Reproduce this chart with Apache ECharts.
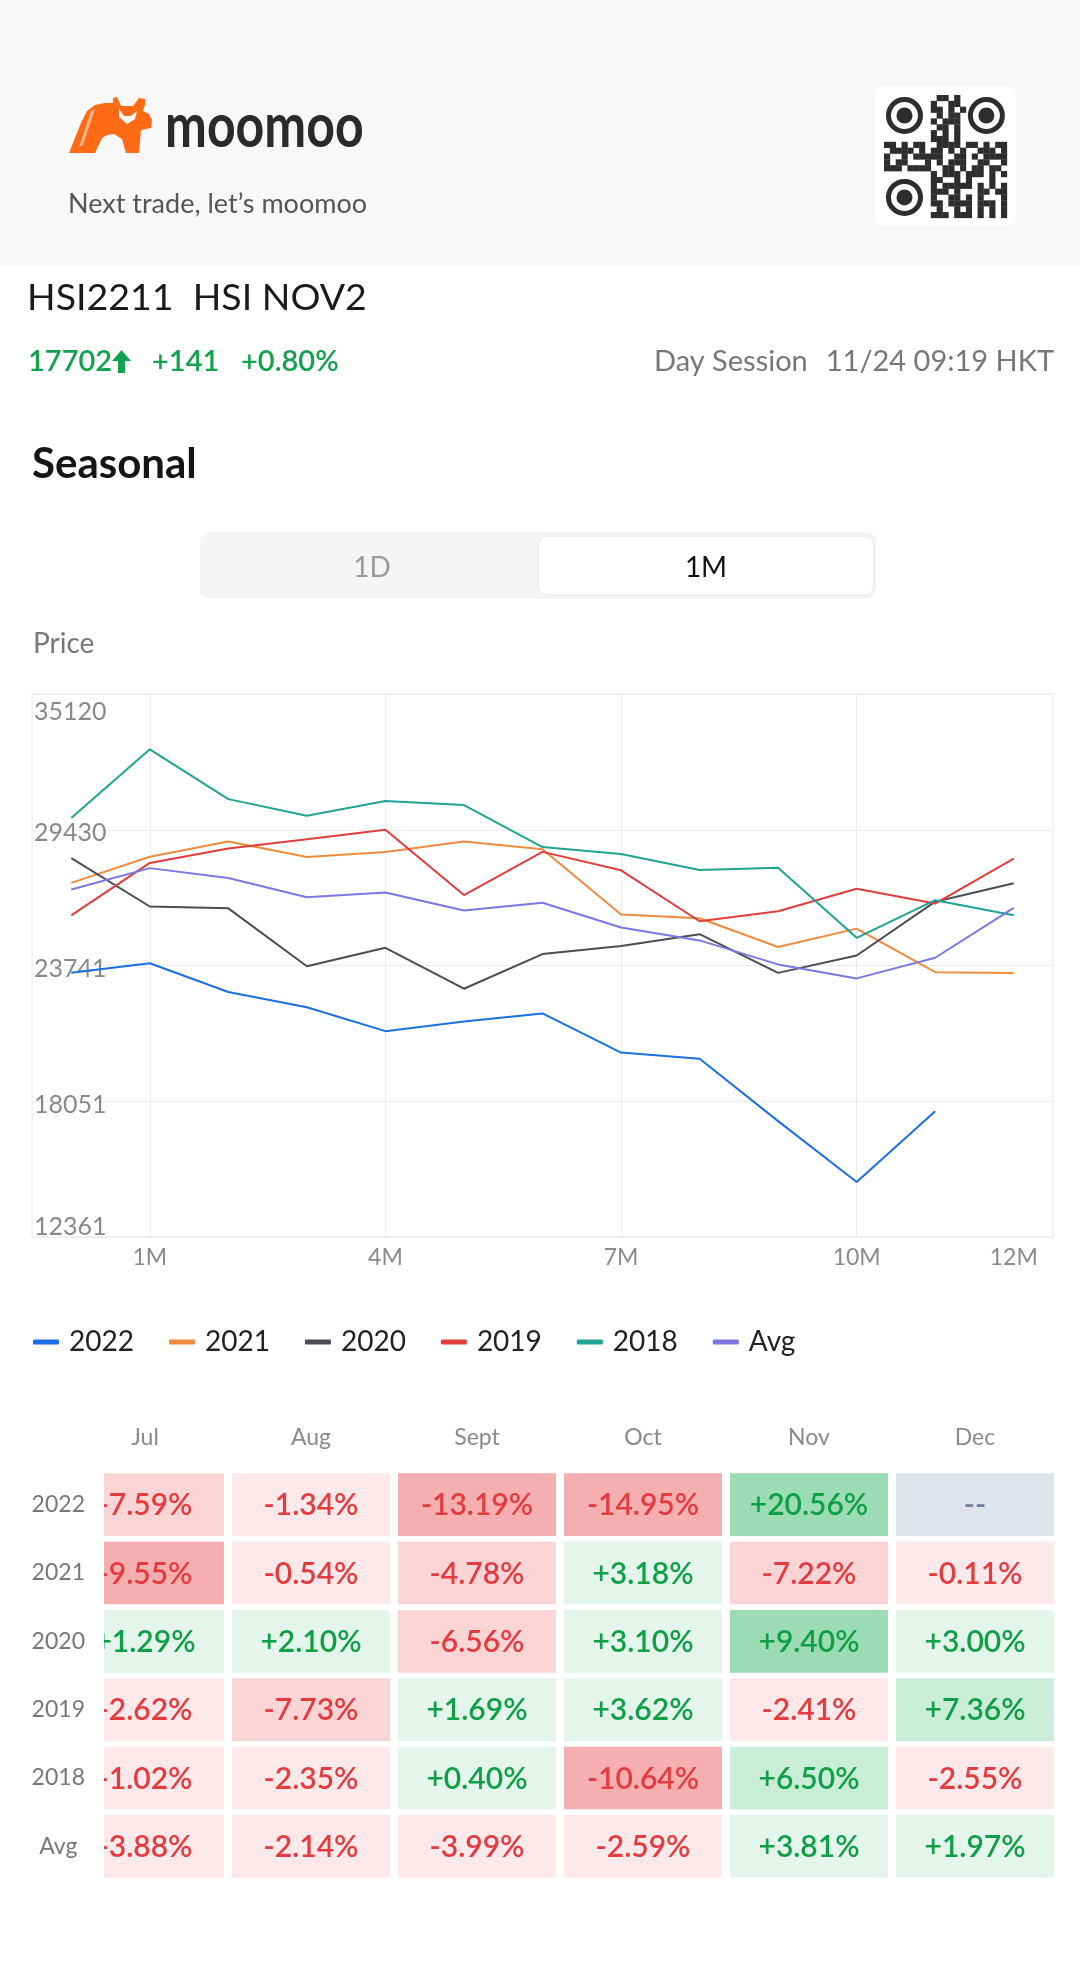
<!DOCTYPE html>
<html>
<head>
<meta charset="utf-8">
<script src="https://cdn.jsdelivr.net/npm/echarts@6/dist/echarts.min.js"></script>
<style>
html,body{margin:0;padding:0;background:#fff;}
#chart{width:1080px;height:1984px;}
</style>
</head>
<body>
<div id="chart"></div>
<script>
// ---------- DATA ----------
const xLabels = ['0M','1M','2M','3M','4M','5M','6M','7M','8M','9M','10M','11M','12M'];
const xLabelShown = [1, 4, 7, 10, 12];
const xGridShown = [1, 4, 7, 10];
const yMin = 12361;
const yMax = 35120;
const yTickValues = [12361, 18050.75, 23740.5, 29430.25, 35120];
const yTickLabels = ['12361', '18051', '23741', '29430', '35120'];

const seriesNames = ['2022', '2021', '2020', '2019', '2018', 'Avg'];
const s2022 = [23432, 23833, 22628, 21994, 20989, 21391, 21731, 20092, 19829, 17217, 14666, 17634, null];
const s2021 = [27204, 28301, 28935, 28286, 28502, 28935, 28611, 25874, 25720, 24514, 25287, 23462, 23431];
const s2020 = [28240, 26214, 26137, 23710, 24483, 22767, 24220, 24560, 25055, 23432, 24158, 26415, 27188];
const s2019 = [25843, 28039, 28642, 29028, 29430, 26694, 28502, 27729, 25596, 26013, 26956, 26338, 28224];
const s2018 = [29925, 32800, 30713, 30017, 30636, 30466, 28703, 28410, 27745, 27838, 24900, 26477, 25843];
const sAvg  = [26926, 27822, 27405, 26601, 26802, 26044, 26369, 25333, 24792, 23787, 23200, 24065, 26152];

const tableMonths = ['Jul', 'Aug', 'Sept', 'Oct', 'Nov', 'Dec'];
const tableYears = ['2022', '2021', '2020', '2019', '2018', 'Avg'];
const ret2022 = [-7.59, -1.34, -13.19, -14.95, 20.56, null];
const ret2021 = [-9.55, -0.54, -4.78, 3.18, -7.22, -0.11];
const ret2020 = [1.29, 2.10, -6.56, 3.10, 9.40, 3.00];
const ret2019 = [-2.62, -7.73, 1.69, 3.62, -2.41, 7.36];
const ret2018 = [-1.02, -2.35, 0.40, -10.64, 6.50, -2.55];
const retAvg  = [-3.88, -2.14, -3.99, -2.59, 3.81, 1.97];

// ---------- STYLE ----------
const FONT = 'Lato, "Noto Sans", sans-serif';
const lineColors = ['#1b6fe3', '#f08a3c', '#4a4d56', '#e03d3d', '#1fa393', '#7a77e2'];
const seriesData = [s2022, s2021, s2020, s2019, s2018, sAvg];
const tableRows = [ret2022, ret2021, ret2020, ret2019, ret2018, retAvg];

function cellBg(v) {
  if (v === null || v === undefined) return '#dfe3ea';
  const a = Math.abs(v);
  if (v < 0) return a >= 8 ? '#f6afb0' : (a >= 4 ? '#fbd5d5' : '#fde9ea');
  return a >= 8 ? '#9cdcb5' : (a >= 4 ? '#c9edd7' : '#e4f6ec');
}
function cellFg(v) {
  if (v === null || v === undefined) return '#6f80a3';
  return v < 0 ? '#e33b3f' : '#0f9f46';
}
function cellText(v) {
  if (v === null || v === undefined) return '--';
  return (v > 0 ? '+' : '') + v.toFixed(2) + '%';
}

const tableData = [];
tableRows.forEach(function (row, r) {
  row.forEach(function (v, c) { tableData.push([c, r]); });
});

// ---------- DECORATION (page chrome) ----------
const qrPattern = [
  '.........11.1........',
  '........1..11........',
  '........11.1.1.......',
  '.........1.11........',
  '........1.111........',
  '.........11.1........',
  '........1.1.1........',
  '........111.1........',
  '11.1.11..1111.11.1.11',
  '.1111.1.11.1.1..111.1',
  '1..1.11111..11.1.1111',
  '1.11...1.1.111..11..1',
  '111.1111..11.1.11.11.',
  '........1.111.111.1.1',
  '........11..1.1...1..',
  '........1.11111.1.1.1',
  '........111.1...11.11',
  '........1..11.1.1...1',
  '........11.1111.111.1',
  '.........1..1.1.1.1.1',
  '........111.111.1.1.1'
];
const graphics = [];
graphics.push({type:'rect', silent:true, z:-10, shape:{x:0,y:0,width:1080,height:266}, style:{fill:'#f8f8f8'}});
// logo
graphics.push({type:'polygon', silent:true, x:69, y:97,
  shape:{points:[[0,56],[12,26],[18,14],[26,8],[36,6],[44,6],[44,1],[48,0],[52,9],[64,9],[70,1],[76,2],[76,8],[74,14],[80,17],[83,23],[82,31],[72,33],[70,56],[57,56],[53,42],[45,37],[38,38],[33,41],[26,56]]},
  style:{fill:'#ff6a14'}});
graphics.push({type:'polygon', silent:true, x:69, y:97,
  shape:{points:[[50,12],[55,19],[62,19],[68,14],[66,22],[58,27],[50,20]]},
  style:{fill:'#ffffff'}});
graphics.push({type:'polygon', silent:true, x:69, y:97,
  shape:{points:[[22,14],[26,12],[14,48],[10,50]]},
  style:{fill:'#ffffff', opacity:0.5}});
graphics.push({type:'text', silent:true, x:165, y:127, scaleY:1.22, originX:0, originY:0,
  style:{text:'moomoo', fontFamily:FONT, fontWeight:'bold', fontSize:50, fill:'#2a2a2e', align:'left', verticalAlign:'middle'}});
graphics.push({type:'text', silent:true, x:68, y:204,
  style:{text:'Next trade, let\u2019s moomoo', fontFamily:FONT, fontSize:27, fill:'#555555', align:'left', verticalAlign:'middle'}});
// QR box
graphics.push({type:'rect', silent:true, shape:{x:875,y:86,width:141,height:140,r:9}, style:{fill:'#ffffff'}});
const qx = 884, qy = 95, qm = 5.85;
qrPattern.forEach(function (row, r) {
  for (let c = 0; c < row.length; c++) {
    if (row[c] === '1') graphics.push({type:'rect', silent:true, shape:{x:qx + c*qm, y:qy + r*qm, width:qm+0.3, height:qm+0.3}, style:{fill:'#2d2d2d'}});
  }
});
[[3.5,3.5],[17.5,3.5],[3.5,17.5]].forEach(function (p) {
  const cx = qx + p[0]*qm, cy = qy + p[1]*qm;
  graphics.push({type:'circle', silent:true, shape:{cx:cx, cy:cy, r:16}, style:{fill:'none', stroke:'#2d2d2d', lineWidth:5}});
  graphics.push({type:'circle', silent:true, shape:{cx:cx, cy:cy, r:8}, style:{fill:'#2d2d2d'}});
});
// title rows
graphics.push({type:'text', silent:true, x:27, y:298,
  style:{text:'HSI2211  HSI NOV2', fontFamily:FONT, fontSize:37.5, fill:'#1a1a1a', align:'left', verticalAlign:'middle'}});
graphics.push({type:'text', silent:true, x:28, y:362,
  style:{text:'17702', fontFamily:FONT, fontSize:29, fontWeight:600, fill:'#12a14c', align:'left', verticalAlign:'middle'}});
graphics.push({type:'polygon', silent:true,
  shape:{points:[[121.5,350],[131,361],[125,361],[125,373],[118,373],[118,361],[112,361]]}, style:{fill:'#12a14c'}});
graphics.push({type:'text', silent:true, x:152, y:362,
  style:{text:'+141', fontFamily:FONT, fontSize:29, fontWeight:600, fill:'#12a14c', align:'left', verticalAlign:'middle'}});
graphics.push({type:'text', silent:true, x:241, y:362,
  style:{text:'+0.80%', fontFamily:FONT, fontSize:29, fontWeight:600, fill:'#12a14c', align:'left', verticalAlign:'middle'}});
graphics.push({type:'text', silent:true, x:654, y:362,
  style:{text:'Day Session', fontFamily:FONT, fontSize:29, fill:'#777777', align:'left', verticalAlign:'middle'}});
graphics.push({type:'text', silent:true, x:1054, y:362,
  style:{text:'11/24 09:19 HKT', fontFamily:FONT, fontSize:29, fill:'#777777', align:'right', verticalAlign:'middle'}});
graphics.push({type:'text', silent:true, x:32, y:464,
  style:{text:'Seasonal', fontFamily:FONT, fontSize:42, fontWeight:'bold', fill:'#151515', align:'left', verticalAlign:'middle'}});
// segmented control
graphics.push({type:'rect', silent:true, shape:{x:200,y:532,width:676,height:67,r:10}, style:{fill:'#f5f5f5'}});
graphics.push({type:'rect', silent:true, shape:{x:539,y:537,width:334,height:57,r:8}, style:{fill:'#ffffff', shadowBlur:4, shadowColor:'rgba(0,0,0,0.06)'}});
graphics.push({type:'text', silent:true, x:372, y:568,
  style:{text:'1D', fontFamily:FONT, fontSize:28, fill:'#9a9a9a', align:'center', verticalAlign:'middle'}});
graphics.push({type:'text', silent:true, x:706, y:568,
  style:{text:'1M', fontFamily:FONT, fontSize:28, fill:'#111111', align:'center', verticalAlign:'middle'}});
graphics.push({type:'text', silent:true, x:33, y:644,
  style:{text:'Price', fontFamily:FONT, fontSize:28, fill:'#777777', align:'left', verticalAlign:'middle'}});

// ---------- CHART ----------
const chart = echarts.init(document.getElementById('chart'), null, {renderer:'canvas'});

const lineSeries = seriesNames.map(function (name, i) {
  return {
    name: name, type: 'line', xAxisIndex: 0, yAxisIndex: 0,
    data: seriesData[i], symbol: 'none', showSymbol: false, connectNulls: false,
    lineStyle: {width: 2, color: lineColors[i]}, itemStyle: {color: lineColors[i]},
    emphasis: {disabled: true}, z: 3
  };
});

const option = {
  animation: false,
  backgroundColor: '#ffffff',
  graphic: graphics,
  textStyle: {fontFamily: FONT},
  legend: {
    data: seriesNames, left: 28, top: 1323, icon: 'roundRect', itemWidth: 26, itemHeight: 5, itemGap: 35,
    textStyle: {fontFamily: FONT, fontSize: 28, color: '#222222', padding: [0, 0, 0, 5]},
    selectedMode: false
  },
  grid: [
    {left: 32, right: 27, top: 694, height: 543, show: true, borderColor: '#e6e6e6', borderWidth: 1, backgroundColor: 'transparent'},
    {left: 104.3, right: 22, top: 1470.5, height: 410},
    {left: 62, right: 22, top: 1470.5, height: 410}
  ],
  xAxis: [
    {
      gridIndex: 0, type: 'category', data: xLabels, boundaryGap: true,
      axisLine: {show: false}, axisTick: {show: false},
      axisLabel: {interval: function (i) { return xLabelShown.indexOf(i) >= 0; }, color: '#8a8a8a', fontSize: 23, fontFamily: FONT, margin: 9},
      splitLine: {show: true, alignWithLabel: true, interval: function (i) { return xGridShown.indexOf(i) >= 0; }, lineStyle: {color: '#ececec', width: 1}}
    },
    {gridIndex: 1, type: 'value', min: -0.245, max: 5.5, show: false},
    {
      gridIndex: 2, type: 'category', data: tableMonths, position: 'top',
      axisLine: {show: false}, axisTick: {show: false}, splitLine: {show: false},
      axisLabel: {color: '#8a8a8a', fontSize: 23, fontFamily: FONT, margin: 33, verticalAlign: 'middle'}
    }
  ],
  yAxis: [
    {
      gridIndex: 0, type: 'value', min: yMin, max: yMax,
      axisLine: {show: false},
      axisTick: {show: false, customValues: yTickValues},
      splitLine: {show: true, lineStyle: {color: '#ececec', width: 1}},
      axisLabel: {
        inside: true, margin: 2, verticalAlign: 'middle', customValues: yTickValues,
        formatter: function (v) {
          let k = -1;
          for (let j = 0; j < yTickValues.length; j++) if (Math.abs(yTickValues[j] - v) < 1) k = j;
          const t = k >= 0 ? yTickLabels[k] : String(Math.round(v));
          if (k === yTickValues.length - 1) return '{t|' + t + '}';
          if (k === 0) return '{b|' + t + '}';
          return '{m|' + t + '}';
        },
        rich: {
          t: {fontSize: 25, color: '#888888', fontFamily: FONT, padding: [35, 0, 0, 0]},
          m: {fontSize: 25, color: '#888888', fontFamily: FONT, padding: [7, 0, 0, 0]},
          b: {fontSize: 25, color: '#888888', fontFamily: FONT, padding: [0, 0, 20, 0]}
        }
      }
    },
    {
      gridIndex: 1, type: 'category', data: tableYears, inverse: true,
      axisLine: {show: false}, axisTick: {show: false}, splitLine: {show: false},
      axisLabel: {color: '#777777', fontSize: 23, fontFamily: FONT, align: 'center', margin: 46}
    },
    {gridIndex: 2, type: 'value', show: false}
  ],
  series: lineSeries.concat([{
    type: 'custom', name: 'table', xAxisIndex: 1, yAxisIndex: 1, clip: true,
    data: tableData, encode: {x: 0, y: 1},
    renderItem: function (params, api) {
      const c = api.value(0), r = api.value(1);
      const v = tableRows[r][c];
      const p = api.coord([c, r]);
      const bw = api.size([1, 0])[0];
      const bh = api.size([0, 1])[1];
      const w = bw - 8, h = bh - 5.6;
      return {
        type: 'group',
        children: [
          {type: 'rect', shape: {x: p[0] - w / 2, y: p[1] - h / 2, width: w, height: h}, style: {fill: cellBg(v)}},
          {type: 'text', x: p[0], y: p[1] + 1, style: {text: cellText(v), fill: cellFg(v), fontSize: 30, fontWeight: 600, fontFamily: FONT, align: 'center', verticalAlign: 'middle'}}
        ]
      };
    }
  }])
};
chart.setOption(option);
</script>
</body>
</html>
